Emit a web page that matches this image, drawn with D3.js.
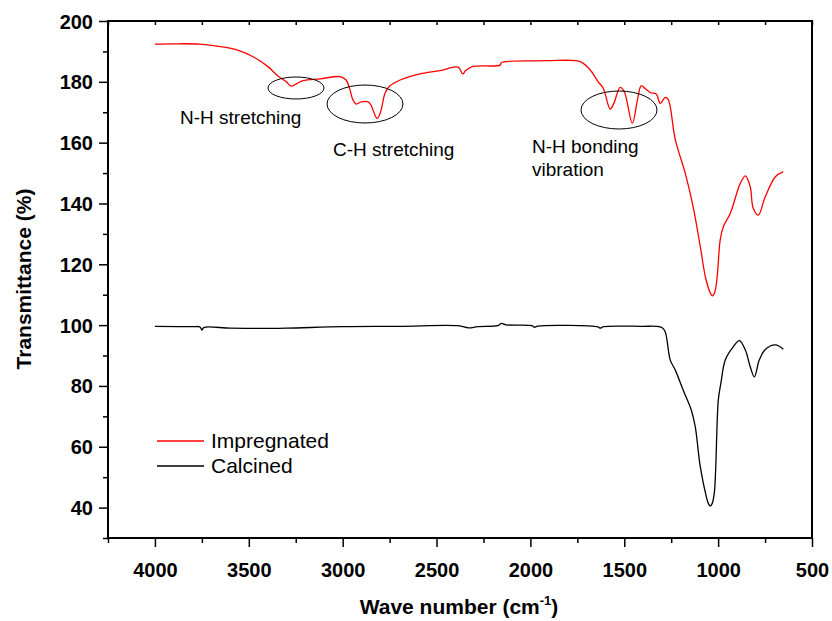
<!DOCTYPE html>
<html>
<head>
<meta charset="utf-8">
<script src="https://cdn.jsdelivr.net/npm/d3@7"></script>
<style>
  body { margin: 0; background: #fff; }
  svg { font-family: Arial, "Liberation Sans", sans-serif; }
  .tick text { font-weight: bold; font-size: 20px; }
</style>
</head>
<body>
<svg id="chart" width="832" height="621"></svg>
<script>
/*************************************************************************/
// data: wave number (cm-1) -> transmittance (%)

var impregnatedWn = [4000, 3900, 3760, 3650, 3563, 3470, 3398, 3344, 3300, 3275, 3245, 3211, 3120, 3014, 2982,
    2965, 2945, 2929, 2900, 2865, 2850, 2817, 2800, 2774, 2750, 2694, 2640, 2588, 2481, 2385, 2360, 2345,
    2310, 2161, 2155, 1980, 1895, 1761, 1729, 1681, 1639, 1612, 1575, 1555, 1522, 1500, 1457, 1430, 1410,
    1390, 1360, 1330, 1308, 1282, 1266, 1228, 1175, 1133, 1095, 1068, 1045, 1031, 1018, 1005, 989, 972, 935, 882, 855,
    829, 813, 786, 749, 695, 653];
var impregnatedT = [192.4, 192.5, 192.4, 191.6, 190.5, 188.0, 185.0, 181.9, 180.0, 178.6, 179.4, 180.4, 181.0, 181.7, 180.6,
    178.2, 174.0, 172.7, 173.4, 173.4, 172.4, 168.0, 169.7, 176.3, 178.6, 180.6, 181.8, 182.6, 183.7, 184.8, 182.6, 183.7,
    185.0, 185.5, 186.3, 186.9, 187.0, 187.0, 186.5, 183.9, 180.0, 177.9, 171.0, 173.0, 178.2, 176.8, 166.4, 174.0, 178.7,
    177.9, 176.4, 176.0, 172.9, 174.9, 174.2, 160.9, 149.9, 138.9, 125.8, 115.9, 111.0, 109.6, 110.8, 116.0, 128.0, 132.4, 136.8, 146.6, 149.1,
    145.5, 138.4, 136.2, 142.2, 148.8, 150.5];

var calcinedWn = [4000, 3800, 3760, 3750, 3740, 3600, 3450, 3300, 3000, 2700, 2385, 2330, 2280, 2170, 2155, 2130,
    1990, 1980, 1960, 1640, 1628, 1610, 1400, 1330, 1300, 1282, 1255, 1228, 1186, 1143, 1122, 1095, 1063, 1052, 1042,
    1032, 1020, 999, 985, 962, 919, 887, 855, 829, 807, 781, 749, 695, 653];
var calcinedT = [99.6, 99.5, 99.4, 98.4, 99.2, 99.0, 98.9, 99.0, 99.5, 99.6, 99.8, 99.1, 99.5, 99.9, 100.6, 100.1,
    99.8, 99.3, 99.7, 99.4, 99.0, 99.5, 99.6, 99.6, 99.2, 97.8, 88.5, 85.2, 78.6, 72.1, 66.6, 53.4, 43.6, 41.3, 40.5,
    41.3, 45.0, 75.4, 81.0, 88.5, 92.9, 94.9, 91.8, 86.3, 83.0, 88.5, 92.0, 93.5, 92.1];

var xTicks = [4000, 3500, 3000, 2500, 2000, 1500, 1000, 500];
var yTicks = [40, 60, 80, 100, 120, 140, 160, 180, 200];

var seriesNames = ["Impregnated", "Calcined"];
var seriesColors = ["#ff0000", "#000000"];

/*************************************************************************/

var svg = d3.select('#chart');
var plotL = 108, plotR = 812, plotT = 21, plotB = 538;

var x = d3.scaleLinear().domain([4250, 500]).range([plotL, plotR]);
var y = d3.scaleLinear().domain([30, 200]).range([plotB, plotT]);

var xMinor = d3.range(4250, 499, -250).filter(d => xTicks.indexOf(d) < 0);
var yMinor = d3.range(30, 201, 10).filter(d => yTicks.indexOf(d) < 0);

// minor ticks first, majors with labels on top
svg.append("g")
    .attr("transform", "translate(0," + plotB + ")")
    .call(d3.axisBottom(x).tickValues(xMinor).tickSize(5).tickFormat(""));
svg.append("g")
    .attr("transform", "translate(" + plotL + ",0)")
    .call(d3.axisLeft(y).tickValues(yMinor).tickSize(5).tickFormat(""));
svg.append("g")
    .attr("transform", "translate(0," + plotT + ")")
    .call(d3.axisBottom(x).tickValues(d3.range(4250, 499, -250)).tickSize(4).tickFormat(""));

var xAxis = svg.append("g")
    .attr("transform", "translate(0," + plotB + ")")
    .call(d3.axisBottom(x).tickValues(xTicks).tickSize(9).tickPadding(16).tickFormat(d3.format("d")));
var yAxis = svg.append("g")
    .attr("transform", "translate(" + plotL + ",0)")
    .call(d3.axisLeft(y).tickValues(yTicks).tickSize(9).tickPadding(6).tickFormat(d3.format("d")));

svg.selectAll(".domain").remove();
svg.selectAll(".tick line").attr("stroke", "#000").attr("stroke-width", 1.5);
xAxis.selectAll(".tick text").attr("fill", "#000");
yAxis.selectAll(".tick text").attr("fill", "#000").attr("dy", "0.35em");

// frame
svg.append("rect")
    .attr("x", plotL).attr("y", plotT)
    .attr("width", plotR - plotL).attr("height", plotB - plotT)
    .attr("fill", "none").attr("stroke", "#000").attr("stroke-width", 2);

/*************************************************************************/

var line = d3.line()
    .x(d => x(d[0]))
    .y(d => y(d[1]))
    .curve(d3.curveCatmullRom.alpha(0.5));

var series = [d3.zip(impregnatedWn, impregnatedT), d3.zip(calcinedWn, calcinedT)];

svg.append("g")
    .selectAll("path")
    .data(series)
    .enter().append("path")
    .attr("d", line)
    .attr("fill", "none")
    .attr("stroke", (d, i) => seriesColors[i])
    .attr("stroke-width", 1.3);

/*************************************************************************/
// annotations

var ellipses = [[296, 88, 28, 11], [365, 104, 38, 19], [619, 110, 38, 19]];
svg.append("g")
    .selectAll("ellipse")
    .data(ellipses)
    .enter().append("ellipse")
    .attr("cx", d => d[0]).attr("cy", d => d[1])
    .attr("rx", d => d[2]).attr("ry", d => d[3])
    .attr("fill", "none").attr("stroke", "#000").attr("stroke-width", 1);

var notes = [["N-H stretching", 180, 124], ["C-H stretching", 333, 156], ["N-H bonding", 532, 153], ["vibration", 532, 176]];
svg.append("g")
    .selectAll("text")
    .data(notes)
    .enter().append("text")
    .attr("x", d => d[1]).attr("y", d => d[2])
    .style("font-size", "19px")
    .text(d => d[0]);

/*************************************************************************/
// legend

var legend = svg.append("g")
    .selectAll("g")
    .data(seriesNames)
    .enter().append("g")
    .attr("transform", (d, i) => "translate(157," + (441 + i * 25) + ")");
legend.append("line")
    .attr("x1", 0).attr("x2", 47)
    .attr("stroke", (d, i) => seriesColors[i])
    .attr("stroke-width", 1.3);
legend.append("text")
    .attr("x", 54).attr("y", 7)
    .style("font-size", "21px")
    .text(d => d);

/*************************************************************************/
// axis titles

var xTitle = svg.append("text")
    .attr("x", 459).attr("y", 614)
    .attr("text-anchor", "middle")
    .style("font-size", "21px").style("font-weight", "bold");
xTitle.append("tspan").text("Wave number (cm");
xTitle.append("tspan").attr("dy", -9).style("font-size", "13px").text("-1");
xTitle.append("tspan").attr("dy", 9).text(")");

svg.append("text")
    .attr("transform", "translate(31,279) rotate(-90)")
    .attr("text-anchor", "middle")
    .style("font-size", "21px").style("font-weight", "bold")
    .text("Transmittance (%)");
</script>
</body>
</html>
